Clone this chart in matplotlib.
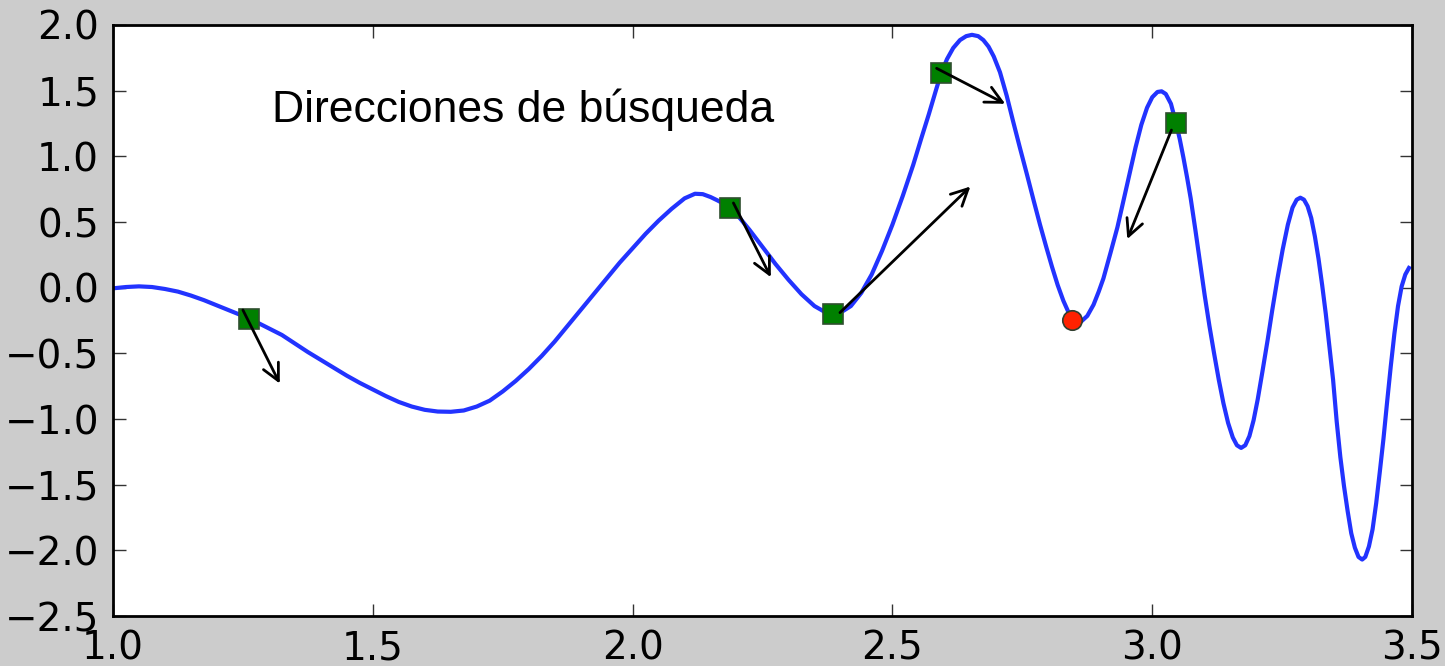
import matplotlib
matplotlib.use("Agg")
import matplotlib.pyplot as plt

# curve samples
xs = [1.000, 1.025, 1.050, 1.075, 1.100, 1.125, 1.150, 1.175, 1.200, 1.225,
      1.250, 1.262, 1.275, 1.300, 1.325, 1.350, 1.375, 1.400, 1.425, 1.450,
      1.475, 1.500, 1.525, 1.550, 1.575, 1.600, 1.625, 1.650, 1.675, 1.700,
      1.725, 1.750, 1.775, 1.800, 1.825, 1.850, 1.875, 1.900, 1.925, 1.950,
      1.975, 2.000, 2.025, 2.050, 2.075, 2.100, 2.120, 2.135, 2.150, 2.163,
      2.175, 2.188, 2.200, 2.225, 2.250, 2.275, 2.300, 2.325, 2.350, 2.370,
      2.386, 2.400, 2.420, 2.440, 2.460, 2.480, 2.500, 2.520, 2.540, 2.555,
      2.570, 2.585, 2.594, 2.605, 2.617, 2.630, 2.642, 2.653, 2.665, 2.675,
      2.685, 2.695, 2.707, 2.720, 2.732, 2.745, 2.759, 2.772, 2.784, 2.796,
      2.807, 2.818, 2.829, 2.838, 2.846, 2.855, 2.864, 2.875, 2.887, 2.897,
      2.906, 2.920, 2.933, 2.945, 2.957, 2.968, 2.979, 2.990, 3.000, 3.010,
      3.018, 3.026, 3.036, 3.046, 3.053, 3.060, 3.067, 3.074, 3.083, 3.092,
      3.101, 3.110, 3.119, 3.128, 3.137, 3.146, 3.155, 3.163, 3.171, 3.179,
      3.187, 3.195, 3.203, 3.212, 3.222, 3.231, 3.241, 3.251, 3.261, 3.270,
      3.278, 3.285, 3.292, 3.299, 3.306, 3.313, 3.320, 3.327, 3.334, 3.341,
      3.348, 3.355, 3.362, 3.369, 3.376, 3.383, 3.390, 3.397, 3.404, 3.410,
      3.417, 3.424, 3.431, 3.438, 3.445, 3.452, 3.459, 3.466, 3.473, 3.480,
      3.487, 3.494]
ys = [-0.005, 0.005, 0.010, 0.005, -0.010, -0.030, -0.060, -0.095, -0.135, -0.175,
      -0.215, -0.237, -0.260, -0.310, -0.360, -0.425, -0.490, -0.550, -0.610, -0.670,
      -0.725, -0.775, -0.825, -0.870, -0.905, -0.930, -0.943, -0.945, -0.935, -0.905,
      -0.860, -0.790, -0.710, -0.620, -0.520, -0.410, -0.290, -0.170, -0.050, 0.070,
      0.190, 0.300, 0.410, 0.510, 0.600, 0.680, 0.715, 0.712, 0.690, 0.665,
      0.640, 0.610, 0.560, 0.440, 0.310, 0.180, 0.060, -0.050, -0.140, -0.185,
      -0.200, -0.190, -0.140, -0.040, 0.100, 0.280, 0.480, 0.700, 0.935, 1.130,
      1.320, 1.520, 1.635, 1.740, 1.825, 1.885, 1.915, 1.925, 1.915, 1.885,
      1.835, 1.760, 1.640, 1.460, 1.270, 1.070, 0.860, 0.660, 0.480, 0.310,
      0.160, 0.020, -0.100, -0.180, -0.235, -0.260, -0.255, -0.215, -0.130, -0.030,
      0.070, 0.270, 0.460, 0.670, 0.880, 1.070, 1.240, 1.370, 1.450, 1.490,
      1.495, 1.475, 1.400, 1.250, 1.130, 0.990, 0.840, 0.680, 0.440, 0.190,
      -0.060, -0.290, -0.500, -0.700, -0.880, -1.030, -1.140, -1.200, -1.220, -1.200,
      -1.130, -1.010, -0.850, -0.640, -0.400, -0.170, 0.070, 0.290, 0.480, 0.610,
      0.670, 0.685, 0.670, 0.620, 0.530, 0.390, 0.220, 0.020, -0.200, -0.450,
      -0.700, -1.020, -1.290, -1.510, -1.700, -1.870, -1.980, -2.050, -2.070, -2.050,
      -1.970, -1.840, -1.640, -1.400, -1.150, -0.870, -0.600, -0.350, -0.140, 0.010,
      0.100, 0.150]

# iterates and their search directions
pts_x = [1.262, 2.188, 2.386, 2.594, 3.046]
pts_y = [-0.237, 0.61, -0.198, 1.635, 1.25]
arrow_from_x = [1.250, 2.194, 2.399, 2.585, 3.037]
arrow_from_y = [-0.17, 0.645, -0.19, 1.67, 1.20]
arrow_to_x = [1.321, 2.266, 2.650, 2.717, 2.952]
arrow_to_y = [-0.73, 0.08, 0.77, 1.40, 0.37]
best_x = [2.846]
best_y = [-0.245]

title_text = "Direcciones de búsqueda"

fig = plt.figure(figsize=(14.45, 6.66), dpi=100, facecolor="#cccccc")
ax = fig.add_axes([0.0782, 0.075, 0.899, 0.8875])

ax.plot(xs, ys, color="#2233ff", lw=3, zorder=2)
ax.plot(pts_x, pts_y, "s", ms=14, mfc="#008000", mec="#2f4f2f", mew=1.2, zorder=3)
ax.plot(best_x, best_y, "o", ms=14, mfc="#ff2200", mec="#2f3f2f", mew=1.2, zorder=3)

for x0, y0, x1, y1 in zip(arrow_from_x, arrow_from_y, arrow_to_x, arrow_to_y):
    ax.annotate("", xy=(x1, y1), xytext=(x0, y0),
                arrowprops=dict(arrowstyle="->", color="black", lw=2,
                                mutation_scale=30, shrinkA=0, shrinkB=0),
                zorder=4)

ax.text(1.306, 1.26, title_text, fontsize=32,
        family=["Liberation Sans", "DejaVu Sans"], va="baseline")

ax.set_xlim(1.0, 3.5)
ax.set_ylim(-2.5, 2.0)
ax.set_xticks([1.0, 1.5, 2.0, 2.5, 3.0, 3.5])
ax.set_yticks([-2.5, -2.0, -1.5, -1.0, -0.5, 0.0, 0.5, 1.0, 1.5, 2.0])
ax.tick_params(direction="in", length=9, width=1, labelsize=28, pad=10,
               top=True, right=True, color="#333333")
for s in ax.spines.values():
    s.set_linewidth(2)

fig.savefig("out.png", dpi=100, facecolor=fig.get_facecolor())
